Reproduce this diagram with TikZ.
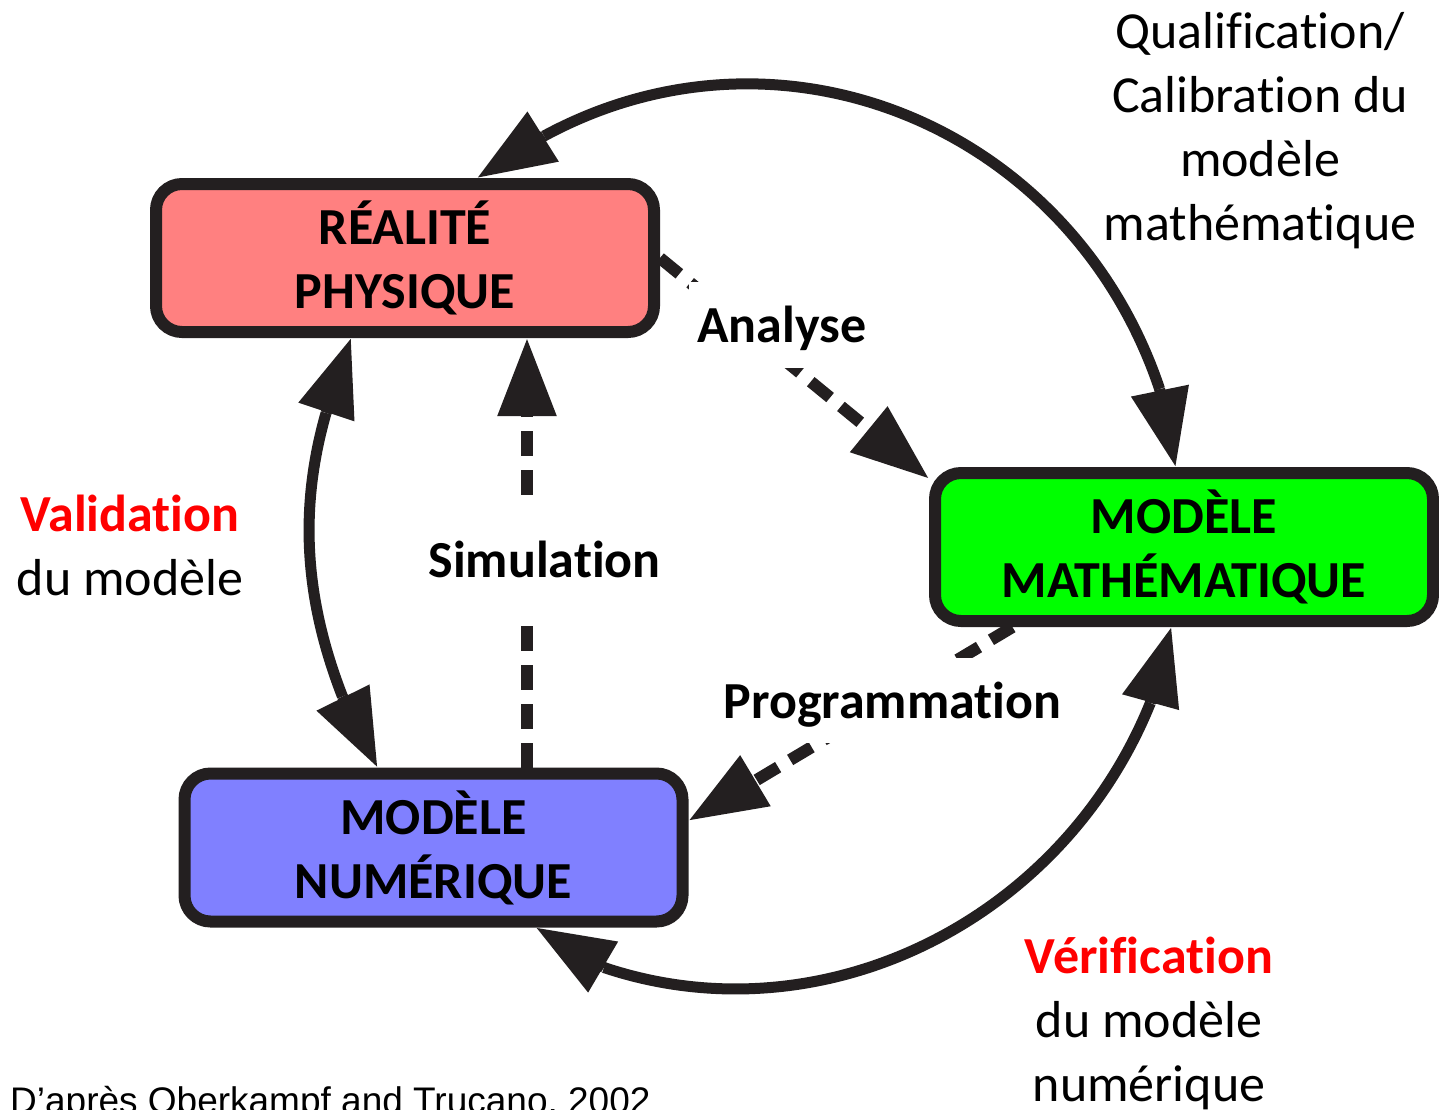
\documentclass[tikz,border=0pt]{standalone}
\usepackage{fontspec}
\setmainfont{Carlito}[Ligatures=NoCommon]
\newfontfamily\arialfont{Liberation Sans}
\usetikzlibrary{arrows.meta,calc}
\definecolor{pinkbox}{HTML}{FF8080}
\definecolor{greenbox}{HTML}{00FF00}
\definecolor{bluebox}{HTML}{8080FF}
\definecolor{ink}{HTML}{231F20}
\definecolor{redlbl}{HTML}{FF0000}
\begin{document}
\begin{tikzpicture}[x=1pt,y=-1pt,
  modelbox/.style={draw=ink, line width=12pt, rounded corners=26pt,
    minimum width=498pt, minimum height=148pt, align=center, inner sep=0pt,
    font=\fontsize{52}{64}\selectfont\bfseries},
  loopline/.style={draw=ink, line width=11pt},
  tipline/.style={draw=ink, line width=11pt, -{Triangle[length=78pt,width=56pt]}},
  dashflow/.style={draw=ink, line width=12pt, dash pattern=on 25pt off 14pt, -{Triangle[length=78pt,width=56pt]}},
  lbl/.style={font=\fontsize{52}{64}\selectfont\bfseries, fill=white, inner ysep=0pt, inner xsep=8pt, anchor=base},
  sidenote/.style={font=\fontsize{52}{64}\selectfont, align=center, inner sep=0pt, anchor=base},
]
\useasboundingbox (0,0) rectangle (1439,1109);
\fill[white] (0,0) rectangle (1439,1109);

% boxes
\node[modelbox, fill=pinkbox] (real) at (405,258) {RÉALITÉ\\PHYSIQUE};
\node[modelbox, fill=greenbox] (math) at (1184,547) {MODÈLE\\MATHÉMATIQUE};
\node[modelbox, fill=bluebox] (num) at (433.5,847.5) {MODÈLE\\NUMÉRIQUE};

% curved double arrows (arcs of one large ellipse), heads drawn from the arc ends
\draw[loopline] ($(math.96)+(-16,-78)$) coordinate (qa)
  .. controls +(-88,-262) and +(238,-129) .. ($(real.48)+(67,-42)$) coordinate (qb);
\draw[tipline] (qa) -- (math.96);
\draw[tipline] (qb) -- (real.48);

\draw[loopline] ($(real.236)+(-25,75)$) coordinate (va)
  .. controls +(-28,98) and +(-37,-95) .. ($(num.125)+(-35,-71)$) coordinate (vb);
\draw[tipline] (va) -- (real.236);
\draw[tipline] (vb) -- (num.125);

\draw[loopline] ($(num.-38)+(68,40)$) coordinate (ra)
  .. controls +(218,73) and +(-88,218) .. ($(math.261)+(-21,76)$) coordinate (rb);
\draw[tipline] (ra) -- (num.-38);
\draw[tipline] (rb) -- (math.261);

% dashed flows
\coordinate (simx) at (527,0);
\draw[dashflow] (real.east) -- (math.165);
\draw[dashflow] (num.north -| simx) -- (real.south -| simx);
\draw[dashflow] (math.205) -- (num.6);

% labels on flows
\node[lbl, text height=60pt, text depth=26pt] (analyse) at (782,342) {Analyse};
\node[lbl, text height=80pt, text depth=43pt] (simul) at (544.5,577) {Simulation};
\node[lbl, text height=60pt, text depth=25pt] (prog) at (892.5,718) {Programmation};

% side notes (anchor=base is the last line's baseline)
\node[sidenote] (qual) at (1260,240) {Qualification/\\Calibration du\\modèle\\mathématique};
\node[sidenote] (valid) at (130,595) {{\color{redlbl}\bfseries Validation}\\du modèle};
\node[sidenote] (verif) at (1149,1101) {{\color{redlbl}\bfseries Vérification}\\du modèle\\numérique};

% source
\node[anchor=base west, inner sep=0pt, font=\arialfont\fontsize{37}{44}\selectfont] (src) at (10,1113) {D’après Oberkampf and Trucano, 2002};
\end{tikzpicture}
\end{document}
